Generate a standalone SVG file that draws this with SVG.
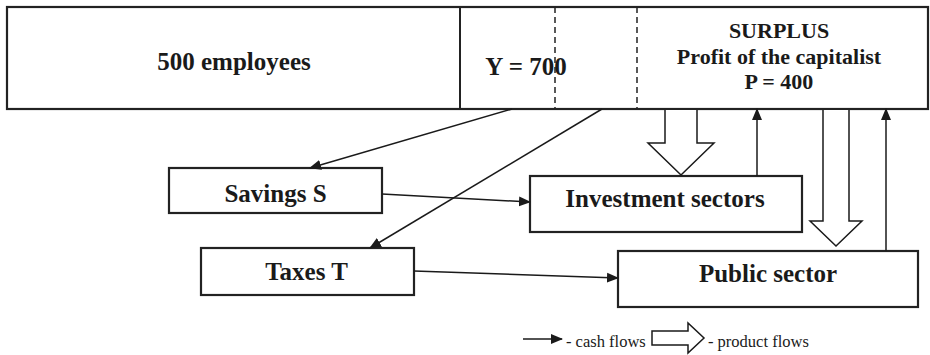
<svg xmlns="http://www.w3.org/2000/svg" width="930" height="355" viewBox="0 0 930 355">
<defs>
<marker id="ah" markerUnits="userSpaceOnUse" markerWidth="12" markerHeight="12" viewBox="0 0 12 12" refX="11" refY="6" orient="auto">
<path d="M0,1 L12,6 L0,11 Z" fill="#1a1a1a"/>
</marker>
<style>
.box{fill:#fff;stroke:#222;stroke-width:2.2}
.t{font-family:"Liberation Serif","Times New Roman",serif;font-weight:bold;fill:#1a1a1a;text-anchor:middle}
.c{fill:none;stroke:#1a1a1a;stroke-width:1.5}
.p{fill:#fff;stroke:#1a1a1a;stroke-width:1.5}
.lg{font-family:"Liberation Serif","Times New Roman",serif;font-size:16.5px;fill:#1a1a1a}
</style>
</defs>
<rect width="930" height="355" fill="#fff"/>
<g id="top">
<rect class="box" x="7" y="7" width="921" height="102"/>
<line x1="460" y1="7" x2="460" y2="109" stroke="#222" stroke-width="2"/>
<line x1="555" y1="7" x2="555" y2="109" stroke="#222" stroke-width="1.5" stroke-dasharray="6,4"/>
<line x1="637" y1="7" x2="637" y2="109" stroke="#222" stroke-width="1.5" stroke-dasharray="6,4"/>
<text class="t" x="234" y="70" font-size="25">500 employees</text>
<text class="t" x="526" y="75" font-size="25">Y = 700</text>
<text class="t" x="779" y="38" font-size="22">SURPLUS</text>
<text class="t" x="779" y="64" font-size="22">Profit of the capitalist</text>
<text class="t" x="779" y="89" font-size="22">P = 400</text>
</g>
<g id="savings">
<rect class="box" x="169" y="168" width="213" height="45"/>
<text class="t" x="275.5" y="202" font-size="25">Savings S</text>
</g>
<g id="investment">
<rect class="box" x="530" y="176" width="272" height="56"/>
<text class="t" x="665" y="207" font-size="25">Investment sectors</text>
</g>
<g id="taxes">
<rect class="box" x="201" y="248" width="213" height="47"/>
<text class="t" x="306.5" y="280" font-size="25">Taxes T</text>
</g>
<g id="public">
<rect class="box" x="618" y="251" width="300" height="56"/>
<text class="t" x="768" y="282" font-size="25">Public sector</text>
</g>
<g id="connectors">
<line class="c" x1="512" y1="109" x2="310" y2="168" marker-end="url(#ah)"/>
<line class="c" x1="602" y1="109" x2="370" y2="248" marker-end="url(#ah)"/>
<line class="c" x1="382" y1="194" x2="530" y2="202" marker-end="url(#ah)"/>
<line class="c" x1="414" y1="271" x2="618" y2="278" marker-end="url(#ah)"/>
<line class="c" x1="757" y1="176" x2="757" y2="109" marker-end="url(#ah)"/>
<line class="c" x1="886" y1="251" x2="886" y2="109" marker-end="url(#ah)"/>
<path class="p" d="M665,110 V143 H648 L681,175 L714,143 H697 V110"/>
<path class="p" d="M823,110 V221 H810 L836,246 L862,221 H849 V110"/>
</g>
<g id="legend">
<line class="c" x1="523" y1="339" x2="562" y2="339" marker-end="url(#ah)"/>
<text class="lg" x="566" y="347">- cash flows</text>
<path class="p" d="M652,331 H688 V323 L704,338 L688,353 V345 H652 Z"/>
<text class="lg" x="708" y="347">- product flows</text>
</g>
</svg>
